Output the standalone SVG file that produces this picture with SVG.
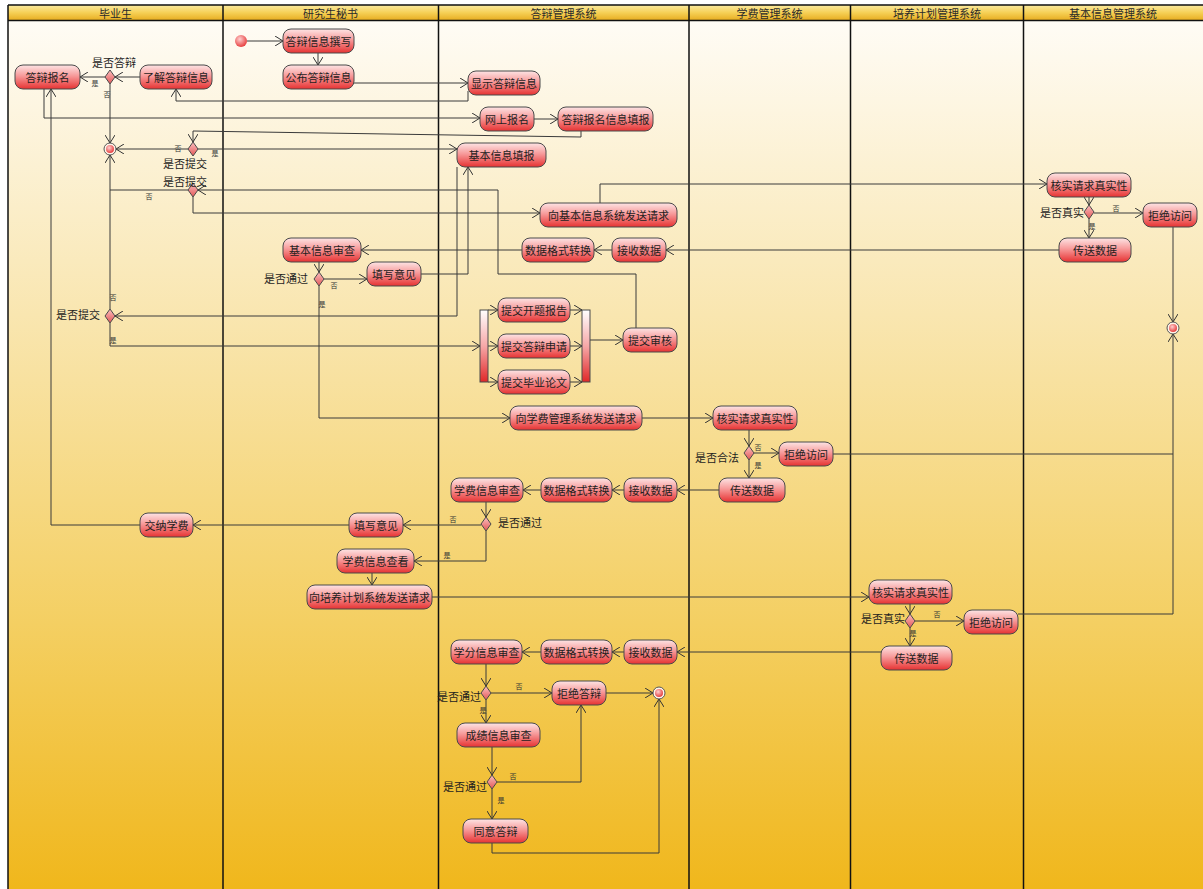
<svg xmlns="http://www.w3.org/2000/svg" width="1203" height="889" viewBox="0 0 1203 889">
<defs>
<linearGradient id="bg" x1="0" y1="0" x2="0" y2="1">
<stop offset="0" stop-color="#fffdf9"/>
<stop offset="0.35" stop-color="#f9e6b0"/>
<stop offset="0.7" stop-color="#f4cf62"/>
<stop offset="1" stop-color="#f0b71c"/>
</linearGradient>
<linearGradient id="hd" x1="0" y1="0" x2="0" y2="1">
<stop offset="0" stop-color="#fbeaa0"/>
<stop offset="0.5" stop-color="#f6d157"/>
<stop offset="1" stop-color="#e8ae22"/>
</linearGradient>
<linearGradient id="nf" x1="0" y1="0" x2="0" y2="1">
<stop offset="0" stop-color="#fde4e4"/>
<stop offset="0.45" stop-color="#f79a9a"/>
<stop offset="1" stop-color="#e63232"/>
</linearGradient>
<linearGradient id="df" x1="0" y1="0" x2="0" y2="1">
<stop offset="0" stop-color="#fbc0c0"/>
<stop offset="1" stop-color="#e35656"/>
</linearGradient>
<linearGradient id="bf" x1="0" y1="0" x2="0" y2="1">
<stop offset="0" stop-color="#ffffff"/>
<stop offset="0.5" stop-color="#f6a8a8"/>
<stop offset="1" stop-color="#e02828"/>
</linearGradient>
<radialGradient id="cf" cx="0.4" cy="0.35" r="0.7">
<stop offset="0" stop-color="#ffd0d0"/>
<stop offset="1" stop-color="#e53535"/>
</radialGradient>
<marker id="arr" viewBox="0 0 8 10" refX="8" refY="5" markerWidth="8" markerHeight="10" orient="auto" markerUnits="userSpaceOnUse">
<path d="M0,0 L8,5 L0,10" fill="none" stroke="#333" stroke-width="1"/>
</marker>
<style>
.node rect{fill:url(#nf);stroke:#4a4a4a;stroke-width:1}
.node text,.t{font-family:"Noto Sans CJK SC","Noto Sans",sans-serif;font-size:11px;fill:#1e1e1e;text-anchor:middle;dominant-baseline:central}
.dec polygon{fill:url(#df);stroke:#4a4a4a;stroke-width:1}
.yn{font-family:"Noto Sans CJK SC",sans-serif;font-size:7px;fill:#333;text-anchor:middle;dominant-baseline:central}
.hdr{font-family:"Noto Sans CJK SC",sans-serif;font-size:11px;fill:#2a2a2a;text-anchor:middle;dominant-baseline:central}
.lane{stroke:#111;stroke-width:1.5;fill:none}
#connectors path{fill:none;stroke:#3a3a3a;stroke-width:1}
.bar{fill:url(#bf);stroke:#4a4a4a;stroke-width:1}
.fin-o{fill:#fff6ea;stroke:#555;stroke-width:1}
.fin-i{fill:url(#cf)}
</style>
</defs>

<g id="swimlanes">
<rect x="8" y="5" width="1195" height="884" fill="url(#bg)"/>
<rect x="8" y="5" width="1195" height="15" fill="url(#hd)"/>
<path class="lane" d="M8,5 H1203 M8,20.5 H1203 M8,5 V889 M223,5 V889 M438.5,5 V889 M689,5 V889 M850.5,5 V889 M1023.5,5 V889"/>
<text class="hdr" x="115.5" y="13">毕业生</text>
<text class="hdr" x="330.5" y="13">研究生秘书</text>
<text class="hdr" x="563.5" y="13">答辩管理系统</text>
<text class="hdr" x="769.5" y="13">学费管理系统</text>
<text class="hdr" x="937" y="13">培养计划管理系统</text>
<text class="hdr" x="1113" y="13">基本信息管理系统</text>
</g>

<g id="connectors">
<path d="M247,41 H283" marker-end="url(#arr)"/>
<path d="M318,53 V65" marker-end="url(#arr)"/>
<path d="M354,83 H468" marker-end="url(#arr)"/>
<path d="M468,91 V101 H176 V89" marker-end="url(#arr)"/>
<path d="M140,77 H115" marker-end="url(#arr)"/>
<path d="M105,77 H80" marker-end="url(#arr)"/>
<path d="M110,84 V143" marker-end="url(#arr)"/>
<path d="M44,89 V118 H480" marker-end="url(#arr)"/>
<path d="M534,119 H558" marker-end="url(#arr)"/>
<path d="M581,131 V137 L193,131 V142" marker-end="url(#arr)"/>
<path d="M188,149 H116" marker-end="url(#arr)"/>
<path d="M198,149 H457" marker-end="url(#arr)"/>
<path d="M457,167 V316 H115" marker-end="url(#arr)"/>
<path d="M421,274 H468 V167" marker-end="url(#arr)"/>
<path d="M636,328 V274 H498 V190 H198" marker-end="url(#arr)"/>
<path d="M188,190 H110"/>
<path d="M110,309 V155" marker-end="url(#arr)"/>
<path d="M193,197 V213 H540" marker-end="url(#arr)"/>
<path d="M600,203 V184 H1047" marker-end="url(#arr)"/>
<path d="M1089,197 V205" marker-end="url(#arr)"/>
<path d="M1094,213 H1143" marker-end="url(#arr)"/>
<path d="M1089,219 V238" marker-end="url(#arr)"/>
<path d="M1059,250 H666" marker-end="url(#arr)"/>
<path d="M612,250 H594" marker-end="url(#arr)"/>
<path d="M522,250 H361" marker-end="url(#arr)"/>
<path d="M319,262 V272" marker-end="url(#arr)"/>
<path d="M324,279 H367" marker-end="url(#arr)"/>
<path d="M319,286 V418 H510" marker-end="url(#arr)"/>
<path d="M110,323 V346 H480" marker-end="url(#arr)"/>
<path d="M488,310 H498" marker-end="url(#arr)"/>
<path d="M488,346 H498" marker-end="url(#arr)"/>
<path d="M488,382 H498" marker-end="url(#arr)"/>
<path d="M570,310 H582" marker-end="url(#arr)"/>
<path d="M570,346 H582" marker-end="url(#arr)"/>
<path d="M570,382 H582" marker-end="url(#arr)"/>
<path d="M590,340 H623" marker-end="url(#arr)"/>
<path d="M642,418 H713" marker-end="url(#arr)"/>
<path d="M749,430 V446" marker-end="url(#arr)"/>
<path d="M754,453 H779" marker-end="url(#arr)"/>
<path d="M749,460 V478" marker-end="url(#arr)"/>
<path d="M833,454 H1173"/>
<path d="M719,490 H677" marker-end="url(#arr)"/>
<path d="M624,490 H612" marker-end="url(#arr)"/>
<path d="M541,490 H523" marker-end="url(#arr)"/>
<path d="M486,502 V517" marker-end="url(#arr)"/>
<path d="M481,525 H403" marker-end="url(#arr)"/>
<path d="M349,525 H193" marker-end="url(#arr)"/>
<path d="M140,525 H51 V89" marker-end="url(#arr)"/>
<path d="M486,531 V561 H414" marker-end="url(#arr)"/>
<path d="M372,573 V585" marker-end="url(#arr)"/>
<path d="M432,597 H869" marker-end="url(#arr)"/>
<path d="M910,604 V614" marker-end="url(#arr)"/>
<path d="M915,621 H964" marker-end="url(#arr)"/>
<path d="M910,628 V646" marker-end="url(#arr)"/>
<path d="M1018,614 H1173 V334" marker-end="url(#arr)"/>
<path d="M1173,227 V322" marker-end="url(#arr)"/>
<path d="M881,652 H677" marker-end="url(#arr)"/>
<path d="M624,652 H612" marker-end="url(#arr)"/>
<path d="M541,652 H522" marker-end="url(#arr)"/>
<path d="M486,664 V686" marker-end="url(#arr)"/>
<path d="M491,693 H552" marker-end="url(#arr)"/>
<path d="M486,700 V723" marker-end="url(#arr)"/>
<path d="M606,693 H653" marker-end="url(#arr)"/>
<path d="M492,747 V775" marker-end="url(#arr)"/>
<path d="M497,782 H581 V705" marker-end="url(#arr)"/>
<path d="M492,789 V819" marker-end="url(#arr)"/>
<path d="M492,843 V853 H659 V699" marker-end="url(#arr)"/>
<g id="edge-labels">
<text class="yn" x="95" y="83">是</text>
<text class="yn" x="107" y="94">否</text>
<text class="yn" x="178" y="148">否</text>
<text class="yn" x="215" y="153">是</text>
<text class="yn" x="149" y="196">否</text>
<text class="yn" x="113" y="297">否</text>
<text class="yn" x="113" y="340">是</text>
<text class="yn" x="334" y="285">否</text>
<text class="yn" x="322" y="304">是</text>
<text class="yn" x="1116" y="208">否</text>
<text class="yn" x="1092" y="226">是</text>
<text class="yn" x="758" y="447">否</text>
<text class="yn" x="758" y="465">是</text>
<text class="yn" x="453" y="519">否</text>
<text class="yn" x="447" y="555">是</text>
<text class="yn" x="937" y="614">否</text>
<text class="yn" x="913" y="633">是</text>
<text class="yn" x="519" y="686">否</text>
<text class="yn" x="483" y="710">是</text>
<text class="yn" x="513" y="776">否</text>
<text class="yn" x="501" y="800">是</text>
</g>
</g>

<g id="start"><circle cx="241" cy="41" r="6" fill="url(#cf)"/></g>
<g id="final1"><circle class="fin-o" cx="110" cy="149" r="6"/><circle class="fin-i" cx="110" cy="149" r="4"/></g>
<g id="final2"><circle class="fin-o" cx="1173" cy="328" r="6"/><circle class="fin-i" cx="1173" cy="328" r="4"/></g>
<g id="final3"><circle class="fin-o" cx="659" cy="693" r="6"/><circle class="fin-i" cx="659" cy="693" r="4"/></g>

<g id="fork"><rect class="bar" x="480" y="310" width="8" height="72"/></g>
<g id="join"><rect class="bar" x="582" y="310" width="8" height="72"/></g>

<g id="n1" class="node"><rect x="283" y="29" width="71" height="24" rx="8"/><text x="318.5" y="41">答辩信息撰写</text></g>
<g id="n2" class="node"><rect x="283" y="65" width="71" height="24" rx="8"/><text x="318.5" y="77">公布答辩信息</text></g>
<g id="n3" class="node"><rect x="468" y="71" width="72" height="24" rx="8"/><text x="504" y="83">显示答辩信息</text></g>
<g id="n4" class="node"><rect x="140" y="65" width="72" height="24" rx="8"/><text x="176" y="77">了解答辩信息</text></g>
<g id="n5" class="node"><rect x="15" y="65" width="65" height="24" rx="8"/><text x="47.5" y="77">答辩报名</text></g>
<g id="n6" class="node"><rect x="480" y="107" width="54" height="24" rx="8"/><text x="507" y="119">网上报名</text></g>
<g id="n7" class="node"><rect x="558" y="107" width="95" height="24" rx="8"/><text x="605.5" y="119">答辩报名信息填报</text></g>
<g id="n8" class="node"><rect x="457" y="143" width="89" height="24" rx="8"/><text x="501.5" y="155">基本信息填报</text></g>
<g id="n9" class="node"><rect x="540" y="203" width="137" height="24" rx="8"/><text x="608.5" y="215">向基本信息系统发送请求</text></g>
<g id="n10" class="node"><rect x="1047" y="173" width="84" height="24" rx="8"/><text x="1089" y="185">核实请求真实性</text></g>
<g id="n11" class="node"><rect x="1143" y="203" width="54" height="24" rx="8"/><text x="1170" y="215">拒绝访问</text></g>
<g id="n12" class="node"><rect x="1059" y="238" width="72" height="24" rx="8"/><text x="1095" y="250">传送数据</text></g>
<g id="n13" class="node"><rect x="612" y="238" width="54" height="24" rx="8"/><text x="639" y="250">接收数据</text></g>
<g id="n14" class="node"><rect x="522" y="238" width="72" height="24" rx="8"/><text x="558" y="250">数据格式转换</text></g>
<g id="n15" class="node"><rect x="283" y="238" width="78" height="24" rx="8"/><text x="322" y="250">基本信息审查</text></g>
<g id="n16" class="node"><rect x="367" y="262" width="54" height="24" rx="8"/><text x="394" y="274">填写意见</text></g>
<g id="n17" class="node"><rect x="498" y="298" width="72" height="24" rx="8"/><text x="534" y="310">提交开题报告</text></g>
<g id="n18" class="node"><rect x="498" y="334" width="72" height="24" rx="8"/><text x="534" y="346">提交答辩申请</text></g>
<g id="n19" class="node"><rect x="498" y="370" width="72" height="24" rx="8"/><text x="534" y="382">提交毕业论文</text></g>
<g id="n20" class="node"><rect x="623" y="328" width="54" height="24" rx="8"/><text x="650" y="340">提交审核</text></g>
<g id="n21" class="node"><rect x="510" y="406" width="132" height="24" rx="8"/><text x="576" y="418">向学费管理系统发送请求</text></g>
<g id="n22" class="node"><rect x="713" y="406" width="84" height="24" rx="8"/><text x="755" y="418">核实请求真实性</text></g>
<g id="n23" class="node"><rect x="779" y="442" width="54" height="24" rx="8"/><text x="806" y="454">拒绝访问</text></g>
<g id="n24" class="node"><rect x="719" y="478" width="66" height="24" rx="8"/><text x="752" y="490">传送数据</text></g>
<g id="n25" class="node"><rect x="624" y="478" width="53" height="24" rx="8"/><text x="650.5" y="490">接收数据</text></g>
<g id="n26" class="node"><rect x="541" y="478" width="71" height="24" rx="8"/><text x="576.5" y="490">数据格式转换</text></g>
<g id="n27" class="node"><rect x="451" y="478" width="72" height="24" rx="8"/><text x="487" y="490">学费信息审查</text></g>
<g id="n28" class="node"><rect x="349" y="513" width="54" height="24" rx="8"/><text x="376" y="525">填写意见</text></g>
<g id="n29" class="node"><rect x="140" y="513" width="53" height="24" rx="8"/><text x="166.5" y="525">交纳学费</text></g>
<g id="n30" class="node"><rect x="337" y="549" width="77" height="24" rx="8"/><text x="375.5" y="561">学费信息查看</text></g>
<g id="n31" class="node"><rect x="307" y="585" width="125" height="24" rx="8"/><text x="369.5" y="597">向培养计划系统发送请求</text></g>
<g id="n32" class="node"><rect x="869" y="580" width="83" height="24" rx="8"/><text x="910.5" y="592">核实请求真实性</text></g>
<g id="n33" class="node"><rect x="964" y="610" width="54" height="24" rx="8"/><text x="991" y="622">拒绝访问</text></g>
<g id="n34" class="node"><rect x="881" y="646" width="71" height="24" rx="8"/><text x="916.5" y="658">传送数据</text></g>
<g id="n35" class="node"><rect x="624" y="640" width="53" height="24" rx="8"/><text x="650.5" y="652">接收数据</text></g>
<g id="n36" class="node"><rect x="541" y="640" width="71" height="24" rx="8"/><text x="576.5" y="652">数据格式转换</text></g>
<g id="n37" class="node"><rect x="451" y="640" width="71" height="24" rx="8"/><text x="486.5" y="652">学分信息审查</text></g>
<g id="n38" class="node"><rect x="552" y="681" width="54" height="24" rx="8"/><text x="579" y="693">拒绝答辩</text></g>
<g id="n39" class="node"><rect x="457" y="723" width="83" height="24" rx="8"/><text x="498.5" y="735">成绩信息审查</text></g>
<g id="n40" class="node"><rect x="463" y="819" width="65" height="24" rx="8"/><text x="495.5" y="831">同意答辩</text></g>

<g id="d1" class="dec"><polygon points="110,70 115,77 110,84 105,77"/><text class="t" x="114" y="62">是否答辩</text></g>
<g id="d2" class="dec"><polygon points="193,142 198,149 193,156 188,149"/><text class="t" x="185" y="163">是否提交</text></g>
<g id="d3" class="dec"><polygon points="193,183 198,190 193,197 188,190"/><text class="t" x="185" y="181">是否提交</text></g>
<g id="d4" class="dec"><polygon points="110,309 115,316 110,323 105,316"/><text class="t" x="78" y="314">是否提交</text></g>
<g id="d5" class="dec"><polygon points="319,272 324,279 319,286 314,279"/><text class="t" x="286" y="278">是否通过</text></g>
<g id="d6" class="dec"><polygon points="749,446 754,453 749,460 744,453"/><text class="t" x="717" y="457">是否合法</text></g>
<g id="d7" class="dec"><polygon points="486,517 491,524 486,531 481,524"/><text class="t" x="520" y="522">是否通过</text></g>
<g id="d8" class="dec"><polygon points="910,614 915,621 910,628 905,621"/><text class="t" x="883" y="618">是否真实</text></g>
<g id="d9" class="dec"><polygon points="1089,205 1094,212 1089,219 1084,212"/><text class="t" x="1062" y="212">是否真实</text></g>
<g id="d10" class="dec"><polygon points="486,686 491,693 486,700 481,693"/><text class="t" x="459" y="696">是否通过</text></g>
<g id="d11" class="dec"><polygon points="492,775 497,782 492,789 487,782"/><text class="t" x="465" y="786">是否通过</text></g>
</svg>
